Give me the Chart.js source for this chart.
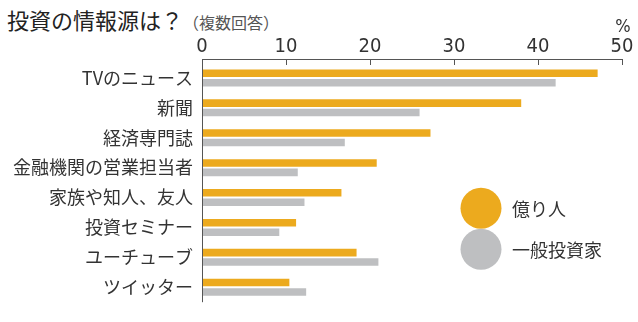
<!DOCTYPE html>
<html>
<head>
<meta charset="utf-8">
<script src="https://cdn.jsdelivr.net/npm/chart.js@4/dist/chart.umd.min.js"></script>
<style>
  html, body { margin: 0; padding: 0; background: #fff; }
  #wrap { position: relative; width: 638px; height: 322px; overflow: hidden; }
  #title {
    position: absolute; left: 7px; top: 3px; white-space: nowrap;
    font-family: "Noto Sans CJK JP", sans-serif; color: #222;
  }
  #title .main { font-size: 22px; }
  #title .sub { font-size: 16px; color: #555; }
  canvas { position: absolute; left: 0; top: 0; }
</style>
</head>
<body>
<div id="wrap">
  <div id="title"><span class="main">投資の情報源は？</span><span class="sub">（複数回答）</span></div>
  <canvas id="chart" width="638" height="322"></canvas>
</div>
<script>
// categories (top to bottom)
const categories = ['TVのニュース', '新聞', '経済専門誌', '金融機関の営業担当者',
  '家族や知人、友人', '投資セミナー', 'ユーチューブ', 'ツイッター'];

// % of respondents
const okuribito = [47.1, 38.0, 27.2, 20.8, 16.6, 11.2, 18.4, 10.4];
const ippan = [42.1, 25.9, 17.0, 11.4, 12.2, 9.2, 21.0, 12.4];

const seriesNames = ['億り人', '一般投資家'];
const xTicks = [0, 10, 20, 30, 40, 50];

const colors = {
  orange: '#ECAA1E',
  gray: '#BEBFC1',
  axis: '#555',
  text: '#333'
};

const jpFont = '"Noto Sans CJK JP", sans-serif';
const numFont = '"Liberation Sans Narrow", "DejaVu Sans Condensed", "Liberation Sans", sans-serif';

// axis lines with inward ticks, plus the % unit
const axisLines = {
  id: 'axisLines',
  afterDraw(chart) {
    const ctx = chart.ctx;
    const area = chart.chartArea;
    const x = chart.scales.x;
    const top = area.top - 4;
    ctx.save();
    ctx.strokeStyle = colors.axis;
    ctx.lineWidth = 1;
    ctx.beginPath();
    ctx.moveTo(area.left + 0.5, top);
    ctx.lineTo(area.left + 0.5, area.bottom);
    ctx.moveTo(area.left, top + 0.5);
    ctx.lineTo(area.right + 0.5, top + 0.5);
    xTicks.forEach(v => {
      const px = Math.round(x.getPixelForValue(v)) + 0.5;
      ctx.moveTo(px, top);
      ctx.lineTo(px, top + 6);
    });
    ctx.stroke();
    ctx.fillStyle = colors.text;
    ctx.font = '18px ' + numFont;
    ctx.textAlign = 'center';
    ctx.textBaseline = 'middle';
    ctx.fillText('%', area.right + 1, 27);
    ctx.restore();
  }
};

// big round legend markers at lower right
const roundLegend = {
  id: 'roundLegend',
  afterDraw(chart) {
    const ctx = chart.ctx;
    const area = chart.chartArea;
    const cx = area.right - 141;
    const cy = area.bottom - 94;
    ctx.save();
    chart.data.datasets.forEach((ds, i) => {
      const y = cy + i * 41;
      ctx.fillStyle = ds.backgroundColor;
      ctx.beginPath();
      ctx.arc(cx, y, 20.5, 0, Math.PI * 2);
      ctx.fill();
      ctx.fillStyle = colors.text;
      ctx.font = '18px ' + jpFont;
      ctx.textAlign = 'left';
      ctx.textBaseline = 'middle';
      ctx.fillText(ds.label, cx + 31, y + 1);
    });
    ctx.restore();
  }
};

const ctx = document.getElementById('chart').getContext('2d');
new Chart(ctx, {
  type: 'bar',
  data: {
    labels: categories,
    datasets: [
      { label: seriesNames[0], data: okuribito, backgroundColor: colors.orange },
      { label: seriesNames[1], data: ippan, backgroundColor: colors.gray }
    ]
  },
  options: {
    indexAxis: 'y',
    responsive: false,
    animation: false,
    categoryPercentage: 0.632,
    barPercentage: 0.8,
    layout: { padding: { top: 0, right: 16, bottom: 6, left: 0 } },
    plugins: {
      legend: { display: false },
      title: { display: false },
      tooltip: { enabled: false }
    },
    scales: {
      x: {
        position: 'top',
        min: 0,
        max: 50,
        afterFit: scale => { scale.height = 63; },
        afterBuildTicks: scale => { scale.ticks = xTicks.map(v => ({ value: v })); },
        grid: { display: false, drawTicks: false },
        border: { display: false },
        ticks: {
          padding: 4,
          maxRotation: 0,
          color: colors.text,
          font: { family: numFont, size: 20 }
        }
      },
      y: {
        afterFit: scale => { scale.width = 202; },
        grid: { display: false, drawTicks: false },
        border: { display: false },
        ticks: {
          padding: 9,
          color: colors.text,
          font: { family: jpFont, size: 18 }
        }
      }
    }
  },
  plugins: [axisLines, roundLegend]
});
</script>
</body>
</html>
